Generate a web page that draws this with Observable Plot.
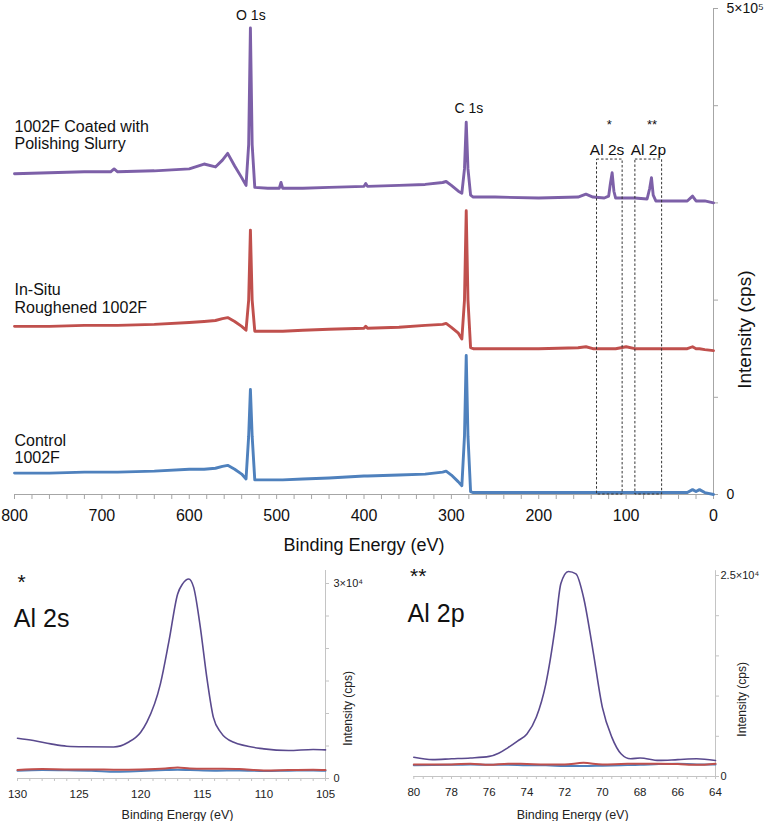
<!DOCTYPE html>
<html><head><meta charset="utf-8">
<script src="https://cdn.jsdelivr.net/npm/d3@7"></script>
<script src="https://cdn.jsdelivr.net/npm/@observablehq/plot@0.6"></script>
<style>
body{margin:0;background:#fff;}
#wrap{position:relative;width:770px;height:821px;overflow:hidden;background:#fff;}
#wrap > div{position:absolute;}
svg{overflow:visible;}
</style></head><body>
<div id="wrap"><div id="main" style="left:0;top:0"></div><div id="in1" style="left:0;top:540px"></div><div id="in2" style="left:380px;top:540px"></div></div>
<script>
// ---------- Survey spectra (binding energy in eV, intensity in cps, offset as plotted) ----------
const surveyBE = [800, 760, 720, 690, 686, 682, 640, 600, 583, 570, 562, 556, 548, 540, 535, 532, 530, 528, 525, 510, 497, 495, 493, 470, 440, 400, 398, 396, 360, 330, 310, 306, 300, 292, 288, 285, 283, 281, 278, 275, 250, 200, 155, 146, 138, 125, 120, 118, 116, 114, 112, 100, 90, 76, 73, 71, 69, 66, 50, 30, 24, 20, 16, 10, 0];
const surveyCoated = [330000, 331000, 332000, 332000, 335000, 332000, 333000, 335000, 340000, 337000, 344000, 351000, 338000, 326000, 318000, 360000, 480000, 360000, 316000, 315000, 315000, 321000, 315000, 315000, 316000, 317000, 320000, 317000, 318000, 319000, 321000, 322000, 318000, 312000, 310000, 335000, 383000, 335000, 308000, 306000, 306000, 305000, 306000, 309000, 306000, 305000, 307000, 320000, 331000, 312000, 305000, 305000, 305000, 304000, 315000, 326000, 308000, 302000, 302000, 302000, 307000, 302000, 302000, 302000, 300000];
const surveyRoughened = [173000, 173000, 174000, 174000, 174000, 174000, 175000, 177000, 178000, 179000, 181000, 182000, 178000, 173000, 169000, 200000, 272000, 200000, 168000, 168000, 168000, 168000, 168000, 169000, 170000, 171000, 173000, 171000, 172000, 174000, 175000, 176000, 172000, 166000, 160000, 200000, 292000, 200000, 151000, 150000, 150000, 150000, 151000, 152000, 150000, 150000, 150000, 150000, 150000, 150000, 150000, 152000, 150000, 150000, 150000, 150000, 150000, 150000, 150000, 150000, 152000, 150000, 150000, 149000, 148000];
const surveyControl = [22000, 22000, 23000, 23000, 23000, 23000, 24000, 26000, 26000, 27000, 29000, 30000, 26000, 21000, 16000, 60000, 108000, 60000, 15000, 15000, 15000, 15000, 15000, 16000, 17000, 19000, 19000, 19000, 20000, 21000, 23000, 24000, 20000, 13000, 9000, 60000, 143000, 60000, 3000, 2000, 2000, 2000, 2000, 2000, 2000, 2000, 2000, 2000, 2000, 2000, 2000, 2000, 2000, 2000, 2000, 2000, 2000, 2000, 2000, 2000, 5000, 3000, 5000, 2000, 0];

const seriesNames = ["1002F Coated with\nPolishing Slurry", "In-Situ\nRoughened 1002F", "Control\n1002F"];
const seriesColors = ["#7d60a8", "#c0504d", "#4f81bd"];
const seriesLabelBE = [800, 800, 800];
const seriesLabelY = [369900, 201600, 46800];

const peakText = ["O 1s", "C 1s", "*", "Al 2s", "**", "Al 2p"];
const peakBE = [529.5, 280, 119.2, 121.8, 70.3, 74.5];
const peakY = [492800, 397100, 380000, 354900, 380000, 354900];
const peakSize = [14, 14, 13, 15.5, 13, 15.5];

const boxHigh = [133.3, 89.4];
const boxLow = [104, 58.8];
const boxTop = [344600, 344600];

const surveyTicks = d3.range(0, 801, 20);
const surveyYTicks = [0, 100000, 200000, 300000, 400000, 500000];

// ---------- Al 2s high resolution ----------
const al2sBE = [130, 128.7, 127.3, 126, 124.6, 122.2, 121, 120, 119.5, 118.4, 117.7, 117, 116.6, 116.1, 115.7, 115.2, 114.6, 114.1, 113.5, 112.5, 110, 108, 106, 105];
const al2sCoated = [6200, 5850, 5330, 4970, 4880, 4850, 5580, 7130, 8670, 14560, 21200, 28400, 29950, 30700, 29400, 23800, 15100, 9400, 7100, 5600, 4560, 4300, 4460, 4400];
const al2sBgBE = [130, 128, 126, 124, 122, 120, 118, 117, 116, 114, 112, 110, 108, 106, 105];
const al2sRoughened = [1300, 1450, 1400, 1400, 1350, 1400, 1550, 1700, 1550, 1500, 1450, 1250, 1300, 1350, 1300];
const al2sControl = [1200, 1300, 1250, 1200, 1050, 1150, 1300, 1350, 1300, 1200, 1250, 1150, 1200, 1250, 1200];

// ---------- Al 2p high resolution ----------
const al2pBE = [80, 79, 78, 77, 76, 75.5, 75, 74.5, 74, 73.5, 73, 72.5, 72.2, 71.8, 71.4, 71, 70.5, 70, 69.5, 69, 68.5, 68, 67, 66, 65, 64];
const al2pCoated = [2400, 2100, 2200, 2300, 2500, 2900, 3600, 4400, 5300, 7400, 11500, 18600, 24000, 25500, 25200, 22300, 15700, 8600, 4900, 2800, 2200, 2300, 2000, 2100, 2200, 2000];
const al2pBgBE = [80, 78, 77, 76, 75, 74, 73, 72, 71, 70, 69, 68, 67, 66, 65, 64];
const al2pRoughened = [1500, 1500, 1600, 1450, 1600, 1550, 1500, 1500, 1700, 1500, 1550, 1600, 1600, 1550, 1450, 1600];
const al2pControl = [1400, 1450, 1500, 1450, 1450, 1400, 1400, 1300, 1300, 1350, 1400, 1450, 1550, 1600, 1500, 1500];

const insetText = ["*", "Al 2s"];
const inset1X = [130, 130.3];
const inset1Y = [30150, 24600];
const inset2Text = ["**", "Al 2p"];
const inset2X = [80.2, 80.33];
const inset2Y = [24900, 20270];
const insetTextSize = [21, 25];
const insetColors = ["#5a4a8e", "#c0504d", "#4f81bd"];

// ---------- drawing ----------
const FONT = "'Liberation Sans', Arial, Helvetica, sans-serif";
const AXIS = "#a6a6a6";
const AXIS2 = "#c4c4c4";
const rows = (be, vals) => be.map((x, i) => ({x, y: vals[i]}));
const idx = a => a.map((_, i) => i);

const main = Plot.plot({
  width: 770, height: 560,
  marginLeft: 14, marginRight: 57, marginTop: 8, marginBottom: 66,
  style: {fontFamily: FONT, background: "transparent", color: "#000", overflow: "visible"},
  x: {domain: [800, 0]},
  y: {domain: [0, 500000]},
  marks: [
    Plot.ruleY([0], {stroke: AXIS}),
    Plot.ruleX([0], {y1: 0, y2: 500000, stroke: AXIS}),
    Plot.axisX({ticks: surveyTicks, tickFormat: d => d % 100 === 0 ? String(d) : "", tickSize: 5, tickPadding: 10, fontSize: 16, stroke: AXIS, fill: "#111", label: null}),
    Plot.axisY({anchor: "right", ticks: surveyYTicks, tickFormat: d => d === 0 ? "0" : d === 500000 ? "5×10⁵" : "", tickSize: 4, tickPadding: 9, fontSize: 14, stroke: AXIS, fill: "#111", label: null}),
    Plot.text(["Binding Energy (eV)"], {frameAnchor: "bottom", dy: 51, fontSize: 18, lineAnchor: "middle", fill: "#111"}),
    Plot.text(["Intensity (cps)"], {frameAnchor: "right", dx: 31, dy: 19, rotate: -90, fontSize: 19, fill: "#111"}),
    Plot.line(rows(surveyBE, surveyControl), {x: "x", y: "y", stroke: seriesColors[2], strokeWidth: 2.9}),
    Plot.line(rows(surveyBE, surveyRoughened), {x: "x", y: "y", stroke: seriesColors[1], strokeWidth: 2.9}),
    Plot.line(rows(surveyBE, surveyCoated), {x: "x", y: "y", stroke: seriesColors[0], strokeWidth: 2.9}),
    Plot.rect(idx(boxHigh), {x1: i => boxHigh[i], x2: i => boxLow[i], y1: 0, y2: i => boxTop[i], fill: "none", stroke: "#333", strokeWidth: 1, strokeDasharray: "2.5,2"}),
    Plot.text(idx(seriesNames), {x: i => seriesLabelBE[i], y: i => seriesLabelY[i], text: i => seriesNames[i], textAnchor: "start", lineAnchor: "middle", lineHeight: 1.07, fontSize: 16, fill: "#111"}),
    Plot.text(idx(peakText), {x: i => peakBE[i], y: i => peakY[i], text: i => peakText[i], fontSize: i => peakSize[i], lineAnchor: "middle", fill: "#111"})
  ]
});
document.getElementById("main").append(main);

function inset(opts) {
  return Plot.plot({
    width: 390, height: 281,
    marginLeft: opts.ml, marginRight: opts.mr, marginTop: opts.mt, marginBottom: opts.mb,
    style: {fontFamily: FONT, background: "transparent", color: "#000", overflow: "visible"},
    x: {domain: opts.xd},
    y: {domain: opts.yd},
    marks: [
      Plot.ruleY([0], {stroke: AXIS2}),
      Plot.ruleX([opts.xd[1]], {y1: 0, y2: opts.ytop, stroke: AXIS2}),
      Plot.axisX({ticks: opts.xt, tickFormat: opts.xf, tickSize: 3, tickPadding: 8, fontSize: 11.5, stroke: AXIS2, fill: "#222", label: null}),
      Plot.axisY({anchor: "right", ticks: opts.yt, tickFormat: opts.yf, tickSize: 3, tickPadding: opts.yp, fontSize: 11, stroke: AXIS2, fill: "#222", label: null}),
      Plot.text(["Intensity (cps)"], {frameAnchor: "right", dx: opts.ldx, dy: opts.ldy, rotate: -90, fontSize: 12, fill: "#222"}),
      Plot.text(["Binding Energy (eV)"], {frameAnchor: "bottom", dy: opts.bdy, dx: opts.bdx, fontSize: 12.5, lineAnchor: "middle", fill: "#222"}),
      Plot.line(rows(opts.bgBE, opts.control), {x: "x", y: "y", stroke: insetColors[2], strokeWidth: 2, curve: "monotone-x"}),
      Plot.line(rows(opts.bgBE, opts.rough), {x: "x", y: "y", stroke: insetColors[1], strokeWidth: 2, curve: "monotone-x"}),
      Plot.line(rows(opts.be, opts.coated), {x: "x", y: "y", stroke: insetColors[0], strokeWidth: 1.6, curve: "monotone-x"}),
      Plot.text(idx(opts.txt), {x: i => opts.tx[i], y: i => opts.ty[i], text: i => opts.txt[i], fontSize: i => insetTextSize[i], textAnchor: "start", lineAnchor: "middle", fill: "#111"})
    ]
  });
}

document.getElementById("in1").append(inset({
  ml: 17, mr: 65, mt: 43, mb: 43, xd: [130, 105], yd: [0, 30000], ytop: 32000,
  xt: d3.range(105, 131, 1), xf: d => d % 5 === 0 ? String(d) : "",
  yt: d3.range(0, 30001, 5000), yf: d => d === 0 ? "0" : d === 30000 ? "3×10⁴" : "", yp: 5,
  ldx: 23, ldy: -10, bdy: 36, bdx: 6,
  be: al2sBE, coated: al2sCoated, bgBE: al2sBgBE, rough: al2sRoughened, control: al2sControl,
  txt: insetText, tx: inset1X, ty: inset1Y
}));

document.getElementById("in2").append(inset({
  ml: 33.3, mr: 55, mt: 35, mb: 45, xd: [80, 64], yd: [0, 25000], ytop: 25600,
  xt: d3.range(64, 80.01, 0.5), xf: d => d % 2 === 0 ? String(d) : "",
  yt: d3.range(0, 25001, 5000), yf: d => d === 0 ? "0" : d === 25000 ? "2.5×10⁴" : "", yp: 2,
  ldx: 27, ldy: -14, bdy: 38, bdx: 8,
  be: al2pBE, coated: al2pCoated, bgBE: al2pBgBE, rough: al2pRoughened, control: al2pControl,
  txt: inset2Text, tx: inset2X, ty: inset2Y
}));
</script>
</body></html>
